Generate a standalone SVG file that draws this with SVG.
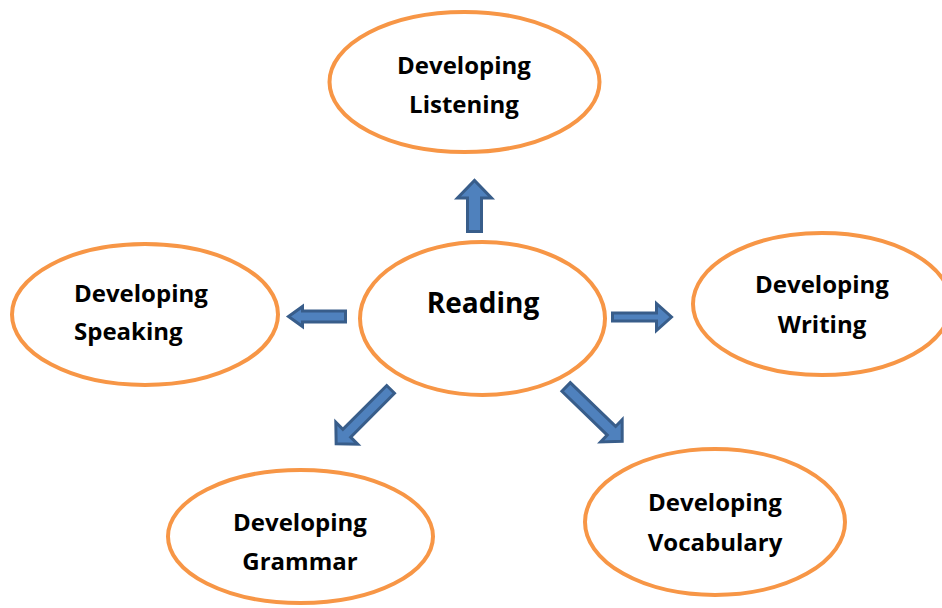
<svg xmlns="http://www.w3.org/2000/svg" width="942" height="608" viewBox="0 0 942 608">
<style>
.node ellipse{fill:#ffffff;stroke:#f79646;stroke-width:4}
.node text{font-family:"Open Sans","Liberation Sans",sans-serif;font-weight:bold;font-size:24px;fill:#000000;text-anchor:middle}
.node text.big{font-size:28px}
.arrow{fill:#4f81bd;stroke:#385d8a;stroke-width:3;stroke-linejoin:miter}
</style>
<rect width="942" height="608" fill="#ffffff"/>
<g id="connectors">
<path class="arrow" transform="translate(474.5,231.5) rotate(-90)" d="M0,-7 L33.5,-7 L33.5,-17 L51,0 L33.5,17 L33.5,7 L0,7 Z"/>
<path class="arrow" transform="translate(345.5,316.5) rotate(180)" d="M0,-5.5 L43,-5.5 L43,-10 L57,0 L43,10 L43,5.5 L0,5.5 Z"/>
<path class="arrow" transform="translate(612.5,317) rotate(0)" d="M0,-4 L44,-4 L44,-13.5 L59,0 L44,13.5 L44,4 L0,4 Z"/>
<path class="arrow" transform="translate(390.6,389.4) rotate(135)" d="M0,-5.5 L62,-5.5 L62,-15.5 L77,0 L62,15.5 L62,5.5 L0,5.5 Z"/>
<path class="arrow" transform="translate(566.1,387) rotate(44)" d="M0,-6 L63,-6 L63,-15.5 L78,0 L63,15.5 L63,6 L0,6 Z"/>
</g>
<g id="listening" class="node">
<ellipse cx="464.5" cy="82" rx="135" ry="70"/>
<text x="464" y="74">Developing</text>
<text x="464" y="113">Listening</text>
</g>
<g id="speaking" class="node">
<ellipse cx="145" cy="314.5" rx="133" ry="70.5"/>
<text x="74" y="302" style="text-anchor:start">Developing</text>
<text x="74" y="340" style="text-anchor:start">Speaking</text>
</g>
<g id="reading" class="node">
<ellipse cx="482.5" cy="318.5" rx="122.5" ry="76.5"/>
<text class="big" x="483" y="313">Reading</text>
</g>
<g id="writing" class="node">
<ellipse cx="822" cy="304" rx="129" ry="71"/>
<text x="822" y="293">Developing</text>
<text x="822" y="333">Writing</text>
</g>
<g id="grammar" class="node">
<ellipse cx="300.5" cy="536.5" rx="132.5" ry="66.5"/>
<text x="300" y="531">Developing</text>
<text x="300" y="570">Grammar</text>
</g>
<g id="vocabulary" class="node">
<ellipse cx="715" cy="522" rx="130" ry="73"/>
<text x="715" y="511">Developing</text>
<text x="715" y="551">Vocabulary</text>
</g>
</svg>
